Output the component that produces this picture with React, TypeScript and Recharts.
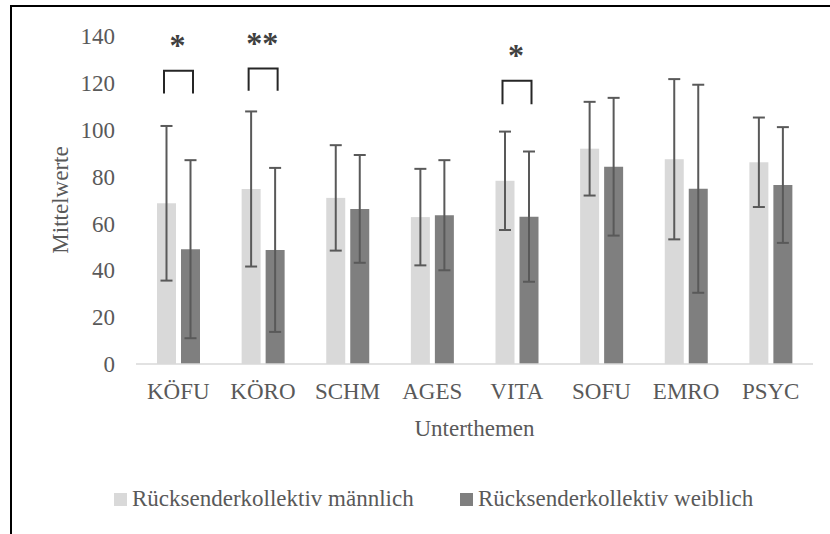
import { BarChart, Bar, XAxis, YAxis, ErrorBar, Legend } from "recharts";

const categories = ["KÖFU", "KÖRO", "SCHM", "AGES", "VITA", "SOFU", "EMRO", "PSYC"];
const maleMeans = [68.6, 74.7, 70.9, 62.7, 78.2, 91.9, 87.4, 86.1];
const maleSD = [33, 33.1, 22.5, 20.6, 21, 20, 34.2, 19.1];
const femaleMeans = [49, 48.7, 66.2, 63.5, 62.9, 84.2, 74.8, 76.4];
const femaleSD = [38, 35, 23, 23.5, 27.8, 29.4, 44.4, 24.7];

// significance brackets (value units)
const sigStars = ["*", "**", "", "", "*", "", "", ""];
const bracketTop = [125.2, 126.1, 0, 0, 120.9, 0, 0, 0];
const bracketLeg = [115.5, 116.6, 0, 0, 110.9, 0, 0, 0];
const starLevel = [139.1, 139.8, 0, 0, 134.9, 0, 0, 0];

const yTicks = [0, 20, 40, 60, 80, 100, 120, 140];

const data = categories.map((name, i) => ({
  name,
  male: maleMeans[i],
  maleSD: maleSD[i],
  female: femaleMeans[i],
  femaleSD: femaleSD[i],
  star: sigStars[i],
  top: bracketTop[i],
  leg: bracketLeg[i],
  starY: starLevel[i],
}));

const FONT = '"Liberation Serif", serif';
const TEXT = "#595959";
const FS = 23;
const BAR_GAP = 5;
const STAR_FS = 32;

function MaleBar(props: any) {
  const { x, y, width, height, fill, payload } = props;
  const base = y + height;
  const unit = height / payload.male;
  const center = x + width + BAR_GAP / 2;
  return (
    <g>
      <rect x={x} y={y} width={width} height={height} fill={fill} />
      {payload.star ? (
        <g>
          <path
            d={`M${center - 14.5},${base - payload.leg * unit} L${center - 14.5},${base - payload.top * unit} L${center + 14.5},${base - payload.top * unit} L${center + 14.5},${base - payload.leg * unit}`}
            fill="none"
            stroke="#262626"
            strokeWidth={2}
          />
          <text
            x={center - 1}
            y={base - payload.starY * unit + STAR_FS * 0.55}
            textAnchor="middle"
            fontFamily={FONT}
            fontSize={STAR_FS}
            fontWeight="bold"
            fill="#404040"
          >
            {payload.star}
          </text>
        </g>
      ) : null}
    </g>
  );
}

function renderLegend(props: any) {
  const { payload } = props;
  return (
    <div
      style={{
        display: "flex",
        fontFamily: FONT,
        fontSize: FS,
        color: TEXT,
        whiteSpace: "nowrap",
      }}
    >
      {(payload || []).map((entry: any, i: number) => (
        <div
          key={i}
          style={{
            display: "flex",
            alignItems: "center",
            flexShrink: 0,
            width: i === 0 ? 346 : undefined,
          }}
        >
          <span
            style={{
              display: "inline-block",
              width: 13,
              height: 13,
              background: entry.color,
              marginRight: 5,
            }}
          />
          <span>{entry.value}</span>
        </div>
      ))}
    </div>
  );
}

export default function App() {
  return (
    <div
      style={{
        position: "fixed",
        left: 0,
        top: 0,
        width: 830,
        height: 534,
        overflow: "hidden",
        background: "#fff",
      }}
    >
      <div
        style={{
          position: "absolute",
          left: 10,
          top: 5,
          width: 1000,
          height: 1000,
          borderLeft: "2px solid #000",
          borderTop: "2px solid #000",
        }}
      />
      <div style={{ position: "absolute", left: 0, top: 0 }}>
        <BarChart
          width={830}
          height={534}
          data={data}
          margin={{ top: 36, right: 17, bottom: 110, left: 0 }}
          barSize={19}
          barGap={BAR_GAP}
        >
          <XAxis
            dataKey="name"
            height={60}
            tickSize={0}
            tickMargin={19}
            tickLine={false}
            axisLine={{ stroke: "#d9d9d9", strokeWidth: 1.5 }}
            tick={{ fill: TEXT, fontSize: FS, fontFamily: FONT }}
            interval={0}
            label={{
              content: (p: any) => {
                const vb = p.viewBox;
                return (
                  <text
                    x={vb.x + vb.width / 2}
                    y={vb.y + 72}
                    textAnchor="middle"
                    fill={TEXT}
                    fontSize={FS}
                    fontFamily={FONT}
                  >
                    Unterthemen
                  </text>
                );
              },
            }}
          />
          <YAxis
            width={136}
            domain={[0, 140]}
            ticks={yTicks}
            tickSize={0}
            tickMargin={21}
            tickLine={false}
            axisLine={false}
            tick={{ fill: TEXT, fontSize: FS, fontFamily: FONT }}
            label={{
              content: (p: any) => {
                const vb = p.viewBox;
                const cx = 68;
                const cy = vb.y + vb.height / 2;
                return (
                  <text
                    x={cx}
                    y={cy}
                    transform={`rotate(-90, ${cx}, ${cy})`}
                    textAnchor="middle"
                    fill={TEXT}
                    fontSize={FS}
                    fontFamily={FONT}
                  >
                    Mittelwerte
                  </text>
                );
              },
            }}
          />
          <Legend
            layout="horizontal"
            verticalAlign="middle"
            align="center"
            wrapperStyle={{ top: 486, left: 114, width: 700 }}
            content={renderLegend}
          />
          <Bar
            dataKey="male"
            name="Rücksenderkollektiv männlich"
            fill="#d9d9d9"
            shape={MaleBar}
            isAnimationActive={false}
          >
            <ErrorBar dataKey="maleSD" width={6} strokeWidth={2} stroke="#595959" direction="y" />
          </Bar>
          <Bar
            dataKey="female"
            name="Rücksenderkollektiv weiblich"
            fill="#7f7f7f"
            isAnimationActive={false}
          >
            <ErrorBar dataKey="femaleSD" width={6} strokeWidth={2} stroke="#595959" direction="y" />
          </Bar>
        </BarChart>
      </div>
    </div>
  );
}
